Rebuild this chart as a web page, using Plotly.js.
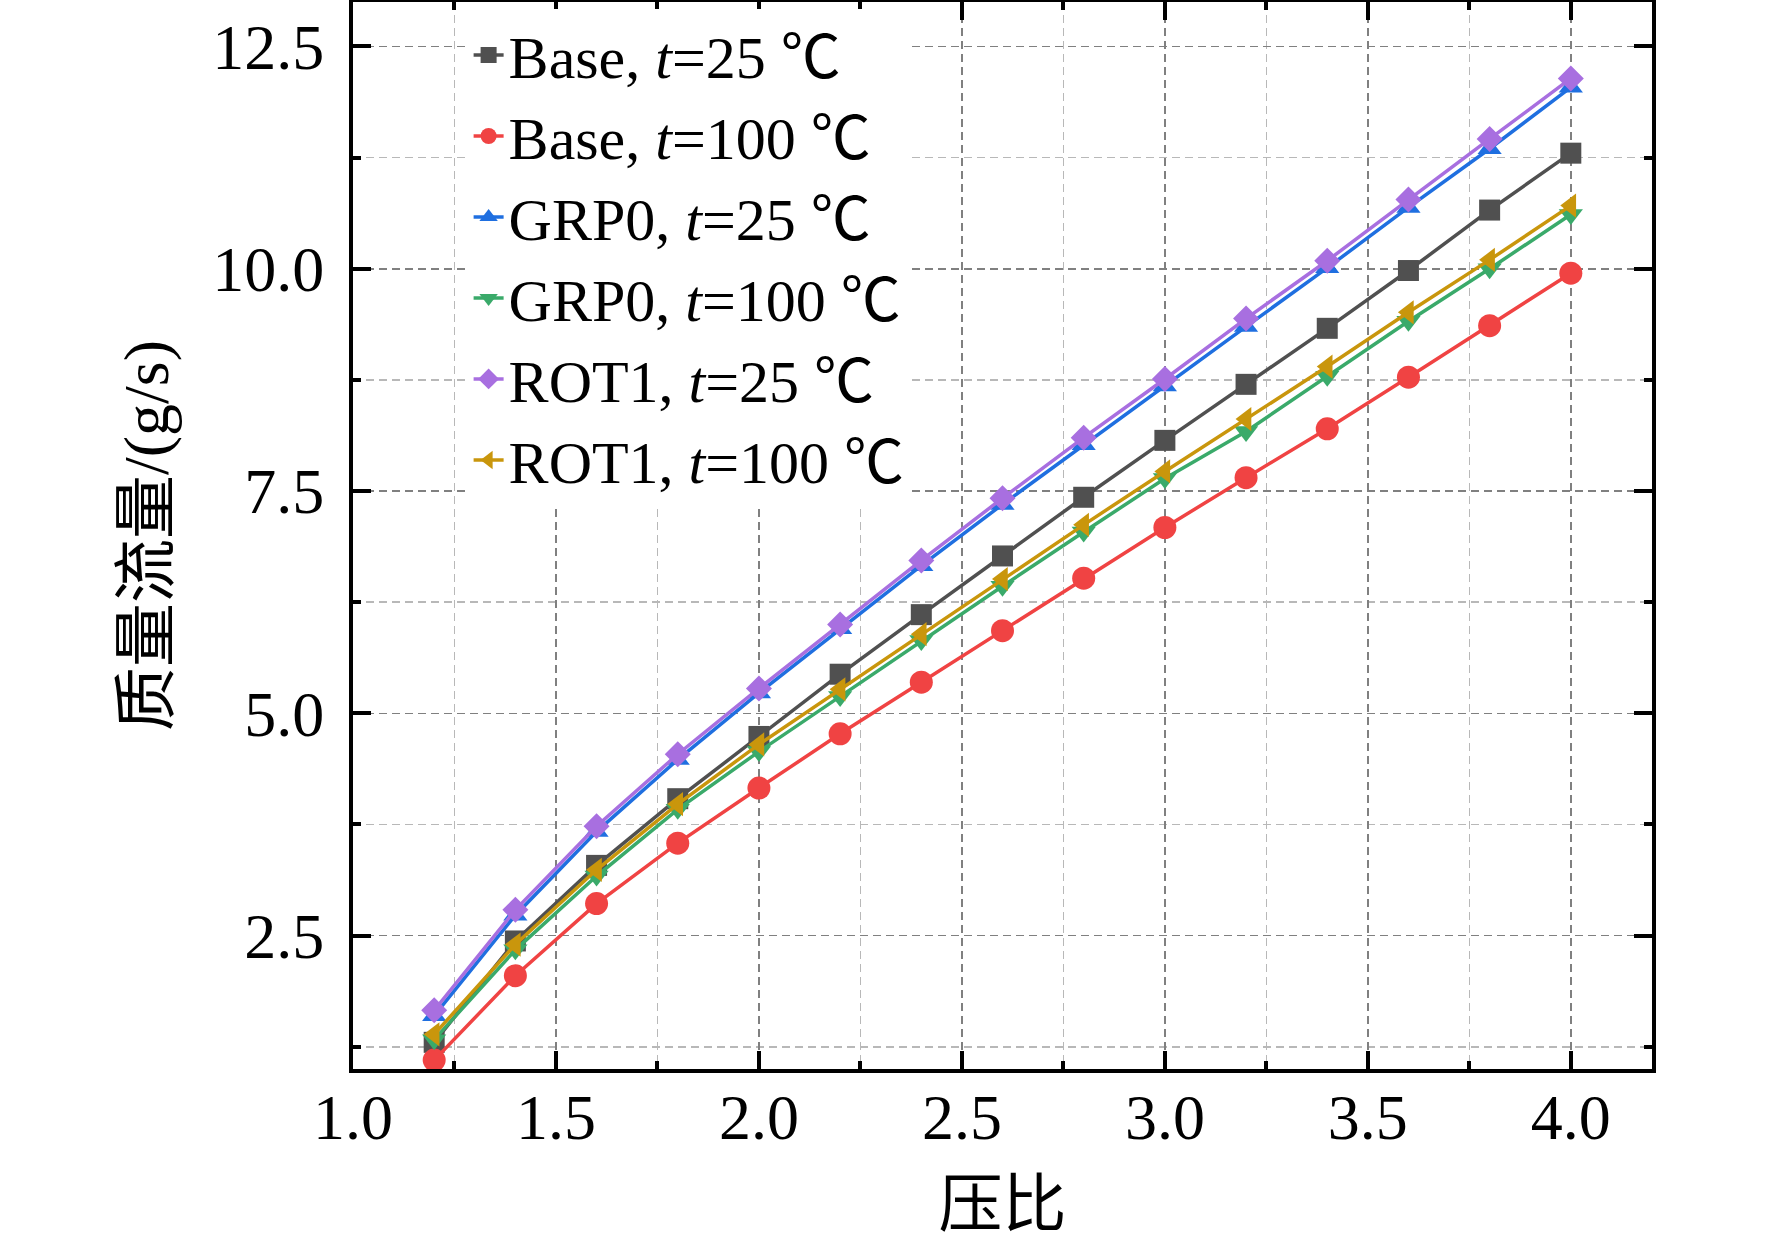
<!DOCTYPE html>
<html>
<head>
<meta charset="utf-8">
<script src="https://cdn.plot.ly/plotly-3.0.1.min.js"></script>
<style>
	body { margin: 0; background: #fff; }
	#plot { width: 1772px; height: 1244px; }
</style>
</head>
<body>
<div id="plot"></div>
<script>
	// Pressure ratio values (x) and mass flow (g/s) for each case.
	const pressureRatio = [1.2, 1.4, 1.6, 1.8, 2.0, 2.2, 2.4, 2.6, 2.8, 3.0, 3.2, 3.4, 3.6, 3.8, 4.0];

	const base25 = [1.30, 2.44, 3.29, 4.04, 4.74, 5.44, 6.11, 6.77, 7.43, 8.07, 8.70, 9.33, 9.98, 10.66, 11.30];
	const base100 = [1.10, 2.05, 2.86, 3.54, 4.16, 4.77, 5.35, 5.93, 6.52, 7.09, 7.65, 8.20, 8.78, 9.36, 9.95];
	const grp25 = [1.60, 2.73, 3.67, 4.48, 5.23, 5.95, 6.66, 7.35, 8.02, 8.68, 9.35, 10.01, 10.69, 11.35, 12.04];
	const grp100 = [1.33, 2.34, 3.17, 3.92, 4.57, 5.19, 5.82, 6.43, 7.04, 7.64, 8.17, 8.79, 9.41, 10.00, 10.61];
	const rot25 = [1.66, 2.79, 3.73, 4.54, 5.28, 6.00, 6.72, 7.42, 8.10, 8.76, 9.44, 10.09, 10.78, 11.46, 12.14];
	const rot100 = [1.39, 2.40, 3.24, 3.98, 4.65, 5.27, 5.89, 6.51, 7.12, 7.72, 8.31, 8.90, 9.51, 10.10, 10.71];

	const seriesNames = [
		'Base, <i>t</i>=25 ℃',
		'Base, <i>t</i>=100 ℃',
		'GRP0, <i>t</i>=25 ℃',
		'GRP0, <i>t</i>=100 ℃',
		'ROT1, <i>t</i>=25 ℃',
		'ROT1, <i>t</i>=100 ℃'
	];
	const seriesValues = [base25, base100, grp25, grp100, rot25, rot100];

	const seriesColors = ['#505050', '#f04343', '#1f6fe0', '#3aaa6a', '#a86fe0', '#c9960c'];
	const seriesSymbols = ['square', 'circle', 'triangle-up', 'triangle-down', 'diamond', 'triangle-left'];
	const markerSizes = [21, 23, 21, 21, 20, 21];

	const fontFamily = '"Liberation Serif", "Times New Roman", "Noto Sans CJK SC", serif';

	// Build one line+marker trace per case.
	const data = seriesValues.map((values, i) => ({
		x: pressureRatio,
		y: values,
		mode: 'lines+markers',
		name: seriesNames[i],
		line: { color: seriesColors[i], width: 3.5 },
		marker: {
			color: seriesColors[i],
			symbol: seriesSymbols[i],
			size: markerSizes[i],
			line: { width: 0 }
		}
	}));

	// Shared axis styling: framed box, inward ticks, dashed grid.
	function axisStyle(extra) {
		return Object.assign({
			showline: true,
			linewidth: 4,
			linecolor: '#000',
			mirror: 'ticks',
			ticks: 'inside',
			ticklen: 18,
			tickwidth: 4,
			tickcolor: '#000',
			tickformat: '.1f',
			tickfont: { family: fontFamily, size: 64, color: '#000' },
			showgrid: true,
			gridcolor: '#808080',
			gridwidth: 1.5,
			griddash: '8px,5px',
			zeroline: false
		}, extra);
	}

	const minorStyle = (step) => ({
		dtick: step,
		ticks: 'inside',
		ticklen: 8,
		tickwidth: 4,
		tickcolor: '#000',
		showgrid: true,
		gridcolor: '#b8b8b8',
		gridwidth: 1.5,
		griddash: '8px,5px'
	});

	const layout = {
		width: 1772,
		height: 1244,
		paper_bgcolor: '#fff',
		plot_bgcolor: '#fff',
		font: { family: fontFamily, color: '#000', size: 64 },
		margin: { l: 353, r: 120, t: 2, b: 175 },
		showlegend: true,
		legend: {
			x: 0.089,
			y: 0.993,
			xanchor: 'left',
			yanchor: 'top',
			bgcolor: '#fff',
			borderwidth: 0,
			font: { family: fontFamily, size: 60, color: '#000' },
			tracegroupgap: 0
		},
		xaxis: axisStyle({
			range: [1.0, 4.2],
			tick0: 1.0,
			dtick: 0.5,
			ticklabelstandoff: -11,
			minor: minorStyle(0.25),
			title: {
				text: '压比',
				font: { family: '"Noto Sans CJK SC", sans-serif', size: 64, color: '#000' },
				standoff: 33
			}
		}),
		yaxis: axisStyle({
			range: [1.0, 13.0],
			tick0: 0,
			dtick: 2.5,
			ticklabelstandoff: 12,
			minor: minorStyle(1.25),
			title: {
				text: '质量流量/(g/s)',
				font: { family: fontFamily, size: 64, color: '#000' },
				standoff: 24
			}
		})
	};

	Plotly.newPlot('plot', data, layout, { displayModeBar: false, staticPlot: true });
</script>
</body>
</html>
